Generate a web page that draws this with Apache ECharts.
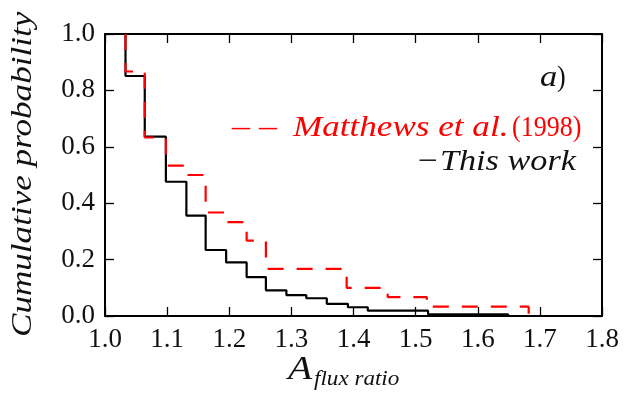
<!DOCTYPE html>
<html><head><meta charset="utf-8">
<script src="https://cdn.jsdelivr.net/npm/echarts@6/dist/echarts.min.js"></script>
<style>
html,body{margin:0;padding:0;background:#fff}
#c{width:624px;height:393px}
</style>
</head><body>
<div id="c"></div>
<script>
// Step breakpoints (x) and value after each step (y)
const thisWorkX = [1.033, 1.033, 1.064, 1.098, 1.131, 1.162, 1.195, 1.228, 1.259, 1.292, 1.324, 1.357, 1.391, 1.423, 1.520, 1.649];
const thisWorkY = [1.0, 0.851, 0.636, 0.476, 0.356, 0.234, 0.190, 0.138, 0.091, 0.074, 0.063, 0.043, 0.031, 0.019, 0.006, 0.0];
const matthewsX = [1.033, 1.033, 1.064, 1.098, 1.131, 1.162, 1.195, 1.228, 1.259, 1.389, 1.455, 1.518, 1.682];
const matthewsY = [1.0, 0.867, 0.633, 0.533, 0.500, 0.367, 0.333, 0.267, 0.167, 0.100, 0.067, 0.033, 0.0];
const xTickLabels = ['1.0','1.1','1.2','1.3','1.4','1.5','1.6','1.7','1.8'];
const yTickLabels = ['0.0','0.2','0.4','0.6','0.8','1.0'];

const zip = (xs, ys) => xs.map((x, i) => [x, ys[i]]);
const FONT = 'Liberation Serif';
const axisLine = {show: true, onZero: false, lineStyle: {color: '#000', width: 2}};
const axisTick = {show: true, inside: true, length: 9, lineStyle: {color: '#000', width: 1.3}};
const xFmt = v => xTickLabels[Math.round((v - 1.0) / 0.1)] || '';
const yFmt = v => yTickLabels[Math.round(v / 0.2)] || '';

// text helper: x = left edge, b = baseline (top-aligned line box, baseline ~0.84em below top)
function txt(s, x, b, fs, o) {
  o = o || {};
  const sx = o.sx || 1, sy = o.sy || 1;
  return {type: 'text', x: x, y: b - 0.84 * fs * sy, scaleX: sx, scaleY: sy, z: 10,
    style: {text: s, fontFamily: FONT, fontSize: fs, fontStyle: o.it ? 'italic' : 'normal',
            fill: o.c || '#111', align: 'left', verticalAlign: 'top'}};
}

const option = {
  animation: false,
  backgroundColor: '#fff',
  textStyle: {fontFamily: FONT},
  grid: {left: 105, top: 34, width: 497, height: 282, containLabel: false},
  xAxis: [
    {type: 'value', position: 'bottom', min: 1.0, max: 1.8, interval: 0.1,
     axisLine, axisTick, splitLine: {show: false},
     axisLabel: {margin: 10, fontFamily: FONT, fontSize: 27, color: '#111', formatter: xFmt}},
    {type: 'value', position: 'top', min: 1.0, max: 1.8, interval: 0.1,
     axisLine, axisTick, splitLine: {show: false}, axisLabel: {show: false}}
  ],
  yAxis: [
    {type: 'value', position: 'left', min: 0, max: 1, interval: 0.2,
     axisLine, axisTick, splitLine: {show: false},
     axisLabel: {margin: 10, fontFamily: FONT, fontSize: 27, color: '#111', formatter: yFmt}},
    {type: 'value', position: 'right', min: 0, max: 1, interval: 0.2,
     axisLine, axisTick, splitLine: {show: false}, axisLabel: {show: false}}
  ],
  series: [
    {name: 'This work', type: 'line', step: 'end', xAxisIndex: 0, yAxisIndex: 0,
     data: zip(thisWorkX, thisWorkY), showSymbol: false, symbol: 'none',
     lineStyle: {color: '#000', width: 2.2}, z: 2},
    {name: 'Matthews et al.(1998)', type: 'line', step: 'end', xAxisIndex: 0, yAxisIndex: 0,
     data: zip(matthewsX, matthewsY), showSymbol: false, symbol: 'none',
     lineStyle: {color: '#ff0000', width: 2.2, type: [16, 13]}, z: 3}
  ],
  graphic: [
    {type: 'text', x: 8.3, y: 337, rotation: Math.PI / 2, scaleX: 1.17, z: 10,
     style: {text: 'Cumulative probability', fontFamily: FONT, fontStyle: 'italic', fontSize: 30, fill: '#111',
             align: 'left', verticalAlign: 'top'}},
    txt('A', 288, 382, 33, {it: true, sx: 1.2}),
    txt('flux ratio', 314, 387, 22, {it: true, sx: 1.05}),
    txt('a', 540, 88, 30, {it: true, sx: 1.15}),
    txt(')', 557, 88, 26, {sy: 1.14}),
    txt('– –', 232, 138, 30, {sx: 1.2, c: '#ff0000'}),
    txt('Matthews et al.', 293, 138, 30, {it: true, sx: 1.17, c: '#ff0000'}),
    txt('(1998)', 512, 138, 26, {sy: 1.14, c: '#ff0000'}),
    txt('\u2212', 418, 172.3, 30, {sx: 1.18}),
    txt('This work', 440, 172.3, 30, {it: true, sx: 1.14})
  ]
};

const chart = echarts.init(document.getElementById('c'));
chart.setOption(option, true);
</script></body></html>
